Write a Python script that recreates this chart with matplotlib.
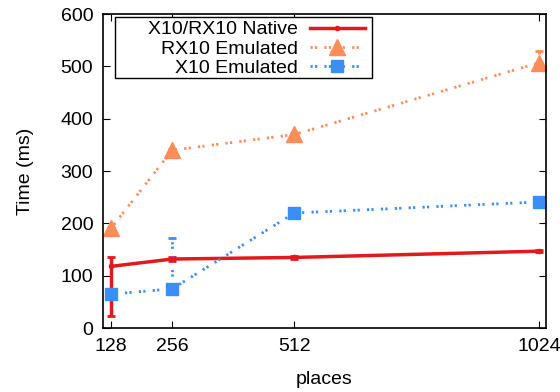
import matplotlib
matplotlib.use("Agg")
import matplotlib.pyplot as plt
from matplotlib.lines import Line2D
from matplotlib.patches import Rectangle

plt.rcParams['font.family'] = ['Liberation Sans', 'DejaVu Sans']

places = [128, 256, 512, 1024]

# X10/RX10 Native
native = [118, 132, 135, 147]
native_lo = [95, 4, 2, 2]
native_hi = [18, 4, 2, 2]

# RX10 Emulated
rx10 = [191, 340, 370, 507]
rx10_lo = [3, 3, 3, 10]
rx10_hi = [3, 3, 3, 22]

# X10 Emulated
x10 = [65, 75, 220, 241]
x10_lo = [2, 2, 2, 2]
x10_hi = [2, 97, 2, 2]

labels = ['X10/RX10 Native', 'RX10 Emulated', 'X10 Emulated']

red = '#e31a1c'
orange = '#fc8d59'
blue = '#3b8ef5'
dots = (0, (0.8, 0.8, 0.8, 2.6))

fig = plt.figure(figsize=(5.6, 3.92), dpi=100)
ax = fig.add_axes([0.184, 0.163, 0.791, 0.801])

ax.errorbar(places, native, yerr=[native_lo, native_hi], color=red, lw=2.5,
            marker='o', ms=3, capsize=3, elinewidth=2.5, capthick=2)
e1 = ax.errorbar(places, rx10, yerr=[rx10_lo, rx10_hi], color=orange, lw=2,
                 ls=dots, marker='^', ms=11, capsize=3, elinewidth=2,
                 capthick=2)
e2 = ax.errorbar(places, x10, yerr=[x10_lo, x10_hi], color=blue, lw=2,
                 ls=dots, marker='s', ms=9, capsize=3, elinewidth=2,
                 capthick=2)
for e in (e1, e2):
    for bar in e[2]:
        bar.set_linestyle(dots)

ax.set_xlim(111, 1039)
ax.set_ylim(0, 600)
ax.set_xticks(places)
ax.set_yticks(range(0, 601, 100))
ax.tick_params(direction='in', top=True, right=True, labelsize=14, length=5,
               pad=7)
for s in ax.spines.values():
    s.set_linewidth(1.2)
ax.set_xlabel('places', fontsize=14, labelpad=12)
ax.set_ylabel('Time (ms)', fontsize=14, labelpad=19)

# gnuplot-style key: wide box, text right-aligned, samples on the right
ax.add_patch(Rectangle((0.027, 0.796), 0.58, 0.194, transform=ax.transAxes,
                       facecolor='white', edgecolor='black', lw=1.0,
                       zorder=4))
handles = [
    Line2D([], [], color=red, lw=2.5, marker='o', ms=3),
    Line2D([], [], color=orange, lw=2, ls=dots, marker='^', ms=11),
    Line2D([], [], color=blue, lw=2, ls=dots, marker='s', ms=9),
]
leg = ax.legend(handles, labels, loc='upper right',
                bbox_to_anchor=(0.596, 0.985), fontsize=14, numpoints=1,
                markerfirst=False, frameon=False, handlelength=2.85,
                borderpad=0.1, labelspacing=0.08, handletextpad=0.6,
                borderaxespad=0)
leg.set_zorder(5)
for t in leg.get_texts():
    t.set_ha('right')
leg._legend_box.align = 'right'

fig.savefig('out.png', dpi=100)
